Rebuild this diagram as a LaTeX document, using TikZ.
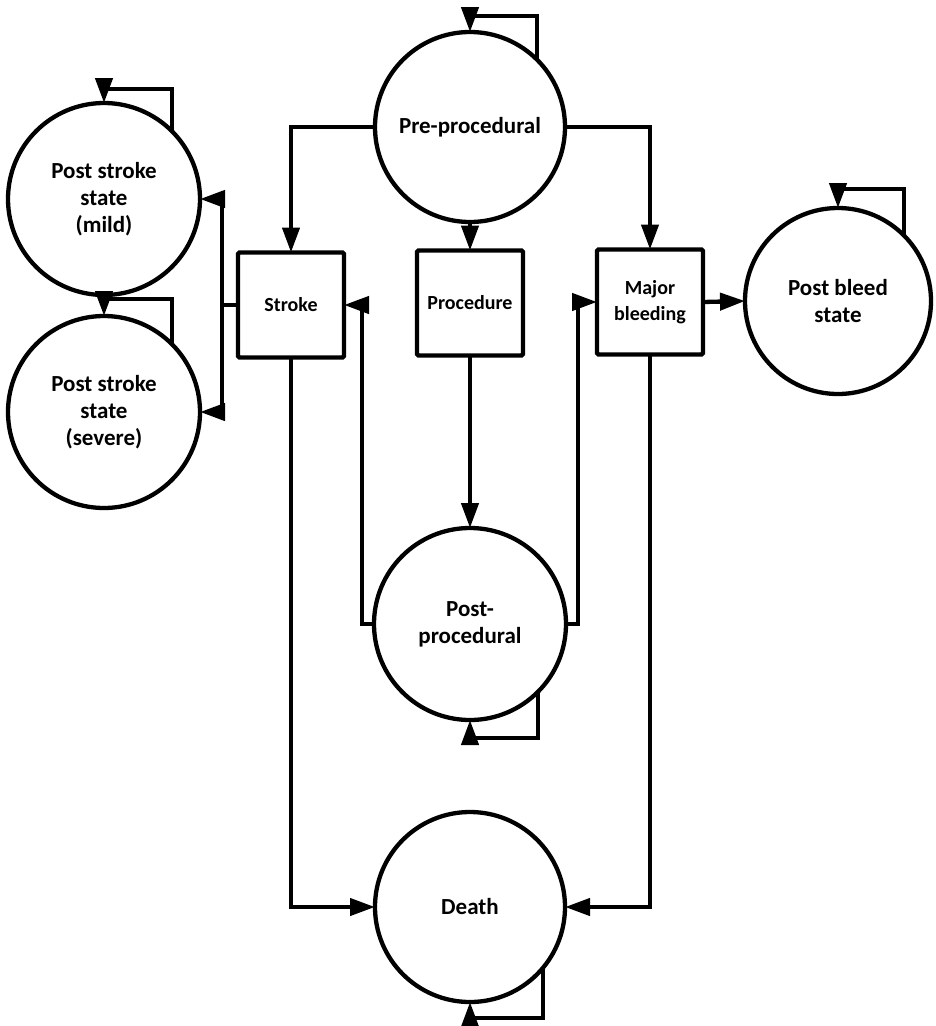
\documentclass[tikz,border=0pt]{standalone}
\usepackage{fontspec}
\setmainfont{Carlito}
\usetikzlibrary{arrows.meta}
\begin{document}
\begin{tikzpicture}[x=1pt,y=-1pt,
  every node/.style={font=\bfseries\fontsize{23}{27}\selectfont, align=center, inner sep=0pt, outer sep=0pt},
  state/.style={draw, circle, line width=4.3pt, minimum size=190pt},
  boxnode/.style={draw, rectangle, line width=4.3pt, minimum width=106pt, minimum height=105pt, rounded corners=1.5pt, font=\bfseries\fontsize{20}{26}\selectfont},
  conn/.style={line width=4.3pt, -{Triangle[length=25pt,width=17pt]}},
  plain/.style={line width=4.3pt}
]
\useasboundingbox (0,0) rectangle (935,1026);
% states
\node[state] (pre) at (470,127) {Pre-procedural};
\node[state, minimum size=192pt] (mild) at (104,199) {Post stroke\\state\\(mild)};
\node[state, minimum size=192pt] (severe) at (104,412) {Post stroke\\state\\(severe)};
\node[state, minimum size=186pt] (bleed) at (838,301) {Post bleed\\state};
\node[state, minimum size=192pt] (post) at (470,624) {Post-\\procedural};
\node[state] (death) at (470,907) {Death};
% boxes
\node[boxnode] (stroke) at (291,305) {Stroke};
\node[boxnode] (proc) at (470,303) {Procedure};
\node[boxnode] (major) at (650,302) {Major\\bleeding};
% split point of the bracket
\coordinate (split) at (222,305);
% connectors
\draw[conn] (pre.west) -| (stroke.north);
\draw[conn] (pre.east) -| (major.north);
\draw[conn] (pre.south) -- (proc.north);
\draw[conn] (proc.south) -- (post.north);
\draw[plain] (stroke.west) -- (split);
\draw[conn] (split) |- (mild.east);
\draw[conn] (split) |- (severe.east);
\draw[conn] (post.west) -- ++(-12,0) |- (stroke.east);
\draw[conn] (post.east) -- ++(12,0) |- (major.west);
\draw[conn] (major.east) -- (bleed.west);
\draw[conn] (stroke.south) |- (death.west);
\draw[conn] (major.south) |- (death.east);
% self loops
\draw[conn] (pre.45) -- ++(0,-44) -| (pre.north);
\draw[conn] (mild.45) -- ++(0,-42) -| (mild.north);
\draw[conn] (severe.45) -- ++(0,-45) -| (severe.north);
\draw[conn] (bleed.45) -- ++(0,-46) -| (bleed.north);
\draw[conn] (post.-45) -- ++(0,46) -| (post.south);
\draw[conn] (death.-40) -- ++(0,50) -| (death.south);
\end{tikzpicture}
\end{document}
